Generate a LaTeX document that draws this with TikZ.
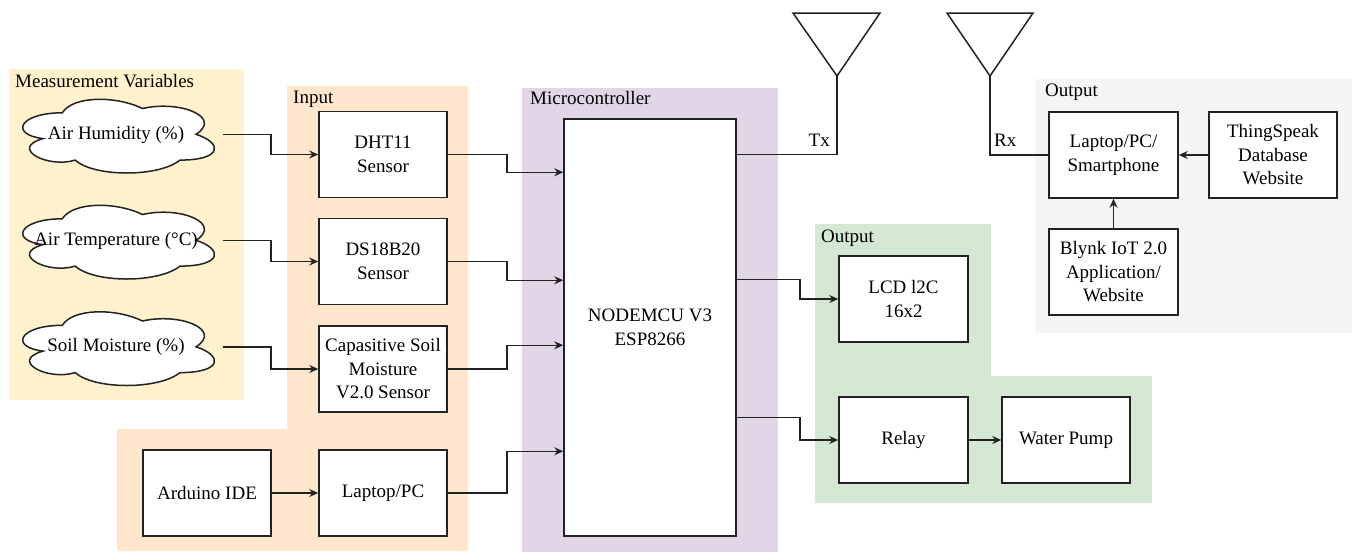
\documentclass[tikz,border=0pt]{standalone}
\usepackage{fontspec}
\setmainfont{Liberation Serif}
\usetikzlibrary{arrows.meta,calc}
\definecolor{bgyellow}{HTML}{FFF2CC}
\definecolor{bgorange}{HTML}{FFE6CC}
\definecolor{bgpurple}{HTML}{E1D5E7}
\definecolor{bggrey}{HTML}{F5F5F5}
\definecolor{bggreen}{HTML}{D5E8D4}
\definecolor{linecol}{HTML}{222222}
\newcommand\mkcloud[3]{%
  \node[cloudbox] (#1) at (#2) {};
  \begin{scope}[shift={(#1.north west)}]
    \filldraw[cloudline] (53.5,21.5) .. controls (10.7,21.5) and (0,43) .. (34.24,47.3)
      .. controls (0,56.76) and (38.52,77.4) .. (66.34,68.8)
      .. controls (85.6,86) and (149.8,86) .. (171.2,68.8)
      .. controls (214,68.8) and (214,51.6) .. (187.25,43)
      .. controls (214,25.8) and (171.2,8.6) .. (133.75,17.2)
      .. controls (107,4.3) and (64.2,4.3) .. (53.5,21.5) -- cycle;
  \end{scope}
  \node[txt] (#1t) at (#1.center) {#3};
}
\begin{document}
\begin{tikzpicture}[x=1pt,y=-1pt,
  font=\fontsize{19}{23.5}\selectfont,
  box/.style={draw=linecol, line width=1.5pt, fill=white, minimum width=128pt, minimum height=86pt, align=center, inner sep=0pt},
  cloudbox/.style={minimum width=214pt, minimum height=86pt, inner sep=0pt},
  cloudline/.style={draw=linecol, fill=white, line width=1.5pt},
  txt/.style={inner sep=0pt},
  lbl/.style={anchor=base west, inner sep=0pt},
  conn/.style={draw=linecol, line width=1.5pt},
  arr/.style={conn, -{Stealth[length=9pt,width=8pt,inset=3pt]}},
]
\useasboundingbox (0,0) rectangle (1356,552);
% backgrounds
\fill[bgyellow] (9,69) rectangle (244,400);
\fill[bgorange] (287,86) -- (468,86) -- (468,551) -- (117,551) -- (117,429) -- (287,429) -- cycle;
\fill[bgpurple] (522,88) rectangle (778,552);
\fill[bggrey] (1035,79) rectangle (1352,333);
\fill[bggreen] (815,224) rectangle (991,503);
\fill[bggreen] (991,376) rectangle (1152,503);
% group labels
\node[lbl] (lmv) at (15,87) {Measurement Variables};
\node[lbl] (lin) at (293,103) {Input};
\node[lbl] (lmc) at (530,104) {Microcontroller};
\node[lbl] (lo1) at (1045,96) {Output};
\node[lbl] (lo2) at (821,242) {Output};
% clouds
\mkcloud{c1}{116,134.5}{Air Humidity (\%)}
\mkcloud{c2}{116,240.5}{Air Temperature (°C)}
\mkcloud{c3}{116,347}{Soil Moisture (\%)}
% boxes
\node[box] (dht) at (383,154.5) {DHT11\\Sensor};
\node[box] (ds) at (383,261.5) {DS18B20\\Sensor};
\node[box] (cap) at (383,369) {Capasitive Soil\\Moisture\\V2.0 Sensor};
\node[box] (ard) at (207,493) {Arduino IDE};
\node[box] (lap) at (383,493) {Laptop/PC};
\node[box, minimum width=172pt, minimum height=417pt] (mcu) at (650,327.5) {NODEMCU V3\\ESP8266};
\node[box, minimum width=129pt] (lcd) at (903.5,299) {LCD l2C\\16x2};
\node[box, minimum width=129pt] (relay) at (903.5,440) {Relay};
\node[box] (pump) at (1066,440) {Water Pump};
\node[box, minimum width=129pt] (lps) at (1113.5,155) {Laptop/PC/\\Smartphone};
\node[box] (ts) at (1273,155) {ThingSpeak\\Database\\Website};
\node[box, minimum width=129pt] (blynk) at (1113.5,272) {Blynk IoT 2.0\\Application/\\Website};
% connectors
\draw[arr] (c1.east) -- ++(48,0) |- (dht.west);
\draw[arr] (c2.east) -- ++(48,0) |- (ds.west);
\draw[arr] (c3.east) -- ++(48,0) |- (cap.west);
\draw[arr] (ard) -- (lap);
\draw[arr] (dht.east) -- ++(59,0) |- ($(mcu.north west)+(0,54)$);
\draw[arr] (ds.east) -- ++(59,0) |- ($(mcu.north west)+(0,162)$);
\draw[arr] (cap.east) -- ++(59,0) |- ($(mcu.north west)+(0,227)$);
\draw[arr] (lap.east) -- ++(59,0) |- ($(mcu.north west)+(0,333)$);
\draw[arr] ($(mcu.north east)+(0,161)$) -- ++(63,0) |- (lcd.west);
\draw[arr] ($(mcu.north east)+(0,299)$) -- ++(63,0) |- (relay.west);
\draw[arr] (relay) -- (pump);
\draw[arr] (ts) -- (lps);
\draw[arr] (blynk) -- (lps);
% antennas
\coordinate (txtip) at (837,76);
\draw[conn] (793,13) -- (880,13) -- (txtip) -- cycle;
\draw[conn] (mcu.east |- dht.east) -| (txtip);
\node[anchor=base east, inner sep=0pt] (tx) at (830,146) {Tx};
\coordinate (rxtip) at (990,76);
\draw[conn] (947,13) -- (1033,13) -- (rxtip) -- cycle;
\draw[conn] (rxtip) |- (lps.west);
\node[anchor=base west, inner sep=0pt] (rx) at (994,146) {Rx};
\end{tikzpicture}
\end{document}
